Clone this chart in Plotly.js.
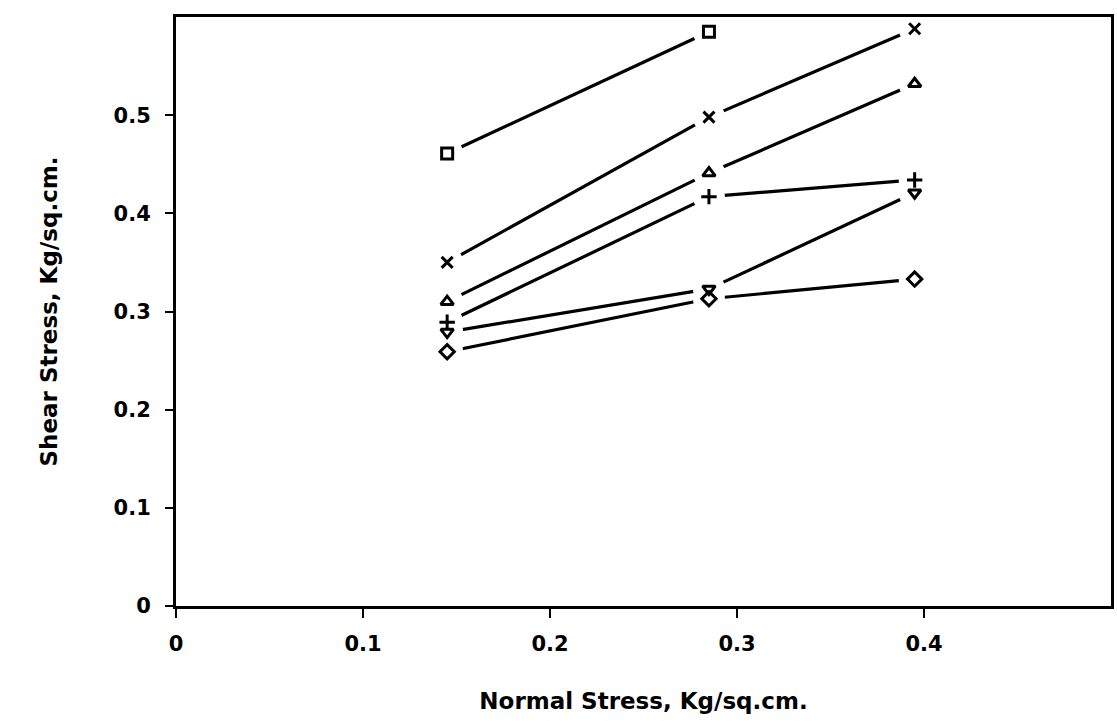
<!DOCTYPE html>
<html>
<head>
<meta charset="utf-8">
<script src="https://cdn.plot.ly/plotly-3.0.1.min.js"></script>
<style>html,body{margin:0;padding:0;background:#fff;}#chart{width:1117px;height:721px;}</style>
</head>
<body>
<div id="chart"></div>
<script>
// Normal stress (Kg/sq.cm.) at which each test was run
const normalStress = [0.145, 0.285, 0.395];

// Shear stress (Kg/sq.cm.) for each test series
const seriesNames = ["Square", "Cross", "Triangle up", "Plus", "Triangle down", "Diamond"];
const seriesSymbols = ["square-open", "x-thin-open", "triangle-up-open", "cross-thin-open", "triangle-down-open", "diamond-open"];
const squareShear = [0.461, 0.585];
const crossShear = [0.350, 0.498, 0.588];
const triUpShear = [0.310, 0.441, 0.532];
const plusShear = [0.289, 0.417, 0.434];
const triDownShear = [0.279, 0.323, 0.421];
const diamondShear = [0.259, 0.313, 0.333];
const seriesValues = [squareShear, crossShear, triUpShear, plusShear, triDownShear, diamondShear];

const xTickVals = [0, 0.1, 0.2, 0.3, 0.4];
const xTickText = ["0", "0.1", "0.2", "0.3", "0.4"];
const yTickVals = [0, 0.1, 0.2, 0.3, 0.4, 0.5];
const yTickText = ["0", "0.1", "0.2", "0.3", "0.4", "0.5"];

const FONT = "DejaVu Sans, Liberation Sans, Arial, sans-serif";
const X_RANGE = [0, 0.5], Y_RANGE = [0, 0.6];

// connecting lines: axis-referenced line shapes drawn below the traces
const lineShapes = [];
const maskTraces = [], symbolTraces = [];
seriesValues.forEach((ys, i) => {
  const xs = normalStress.slice(0, ys.length);
  for (let k = 0; k < ys.length - 1; k++) {
    lineShapes.push({
      type: "line", xref: "x", yref: "y", layer: "below",
      x0: xs[k], y0: ys[k], x1: xs[k + 1], y1: ys[k + 1],
      line: {color: "#000", width: 3.2}
    });
  }
  // white discs open a gap in the lines around each plotted point
  maskTraces.push({
    x: xs, y: ys, type: "scatter", mode: "markers",
    marker: {symbol: "circle", size: 32, color: "#ffffff", line: {width: 0}},
    hoverinfo: "skip", showlegend: false, cliponaxis: false
  });
  symbolTraces.push({
    x: xs, y: ys, type: "scatter", mode: "markers", name: seriesNames[i],
    marker: {symbol: seriesSymbols[i], size: 11, color: "#000", line: {color: "#000", width: 3}},
    showlegend: false, cliponaxis: false
  });
});

const layout = {
  width: 1117, height: 721,
  margin: {l: 176, r: 6, t: 17, b: 115},
  paper_bgcolor: "#fff", plot_bgcolor: "#fff",
  showlegend: false,
  shapes: lineShapes,
  font: {family: FONT, color: "#000", size: 21, weight: "bold"},
  xaxis: {
    range: X_RANGE, tickvals: xTickVals, ticktext: xTickText,
    showgrid: false, zeroline: false,
    showline: true, linecolor: "#000", linewidth: 3, mirror: true,
    ticks: "outside", ticklen: 9, tickwidth: 2, tickcolor: "#000",
    ticklabelstandoff: 8,
    tickfont: {family: FONT, size: 21, color: "#000", weight: "bold"},
    title: {text: "Normal Stress, Kg/sq.cm.", standoff: 38,
            font: {family: FONT, size: 23, color: "#000", weight: "bold"}}
  },
  yaxis: {
    range: Y_RANGE, tickvals: yTickVals, ticktext: yTickText,
    showgrid: false, zeroline: false,
    showline: true, linecolor: "#000", linewidth: 3, mirror: true,
    ticks: "outside", ticklen: 8, tickwidth: 2, tickcolor: "#000",
    ticklabelstandoff: 10,
    tickfont: {family: FONT, size: 21, color: "#000", weight: "bold"},
    title: {text: "Shear Stress, Kg/sq.cm.", standoff: 50,
            font: {family: FONT, size: 23, color: "#000", weight: "bold"}}
  }
};

Plotly.newPlot("chart", maskTraces.concat(symbolTraces), layout, {displayModeBar: false, staticPlot: true});
</script>
</body>
</html>
